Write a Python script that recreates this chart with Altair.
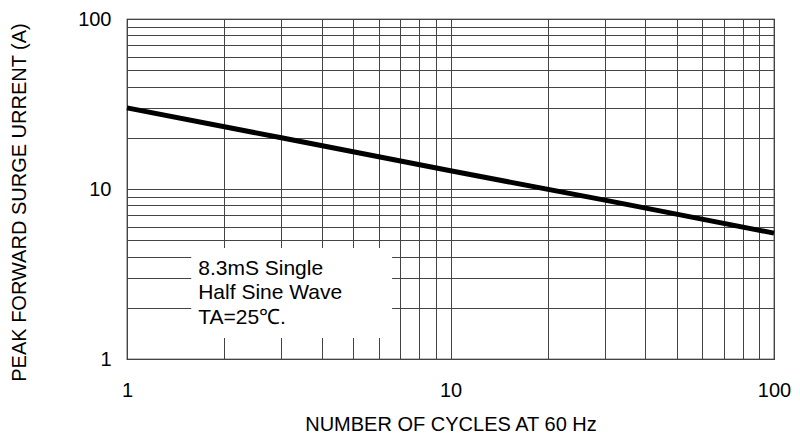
import altair as alt
import pandas as pd

# Curve
cycles = [1, 3, 10, 30, 100]
current = [30, 20, 12.8, 8.6, 5.5]

# Grid / tick values
grid_vals = [1, 2, 3, 4, 5, 6, 7, 8, 9, 10, 20, 30, 40, 50, 60, 70, 80, 90, 100]
label_vals = [1, 10, 100]

# Annotation box extent (data units) and text
box_x = [1.58, 6.6]
box_y = [1.33, 4.5]
note_lines = ["8.3mS Single", "Half Sine Wave", "TA=25\u2103."]
note_pos = [1.66, 3.12]

FONT = "Liberation Sans"

curve_df = pd.DataFrame({"x": cycles, "y": current})
box_df = pd.DataFrame({"x": [box_x[0]], "x2": [box_x[1]], "y": [box_y[0]], "y2": [box_y[1]]})
note_df = pd.DataFrame({"x": [note_pos[0]], "y": [note_pos[1]]})

label_expr = "indexof([1,10,100], datum.value) >= 0 ? format(datum.value, 'd') : ''"

xscale = alt.Scale(type="log", domain=[1, 100], nice=False)
yscale = alt.Scale(type="log", domain=[1, 100], nice=False)

xaxis = alt.Axis(
    values=grid_vals, labelExpr=label_expr, ticks=False, grid=True,
    gridColor="#444444", gridWidth=1, domain=False,
    labelFont=FONT, labelFontSize=20, labelColor="#000000", labelPadding=21,
    labelFlush=False, labelOverlap=False,
    title="NUMBER OF CYCLES AT 60 Hz", titleFont=FONT, titleFontSize=20,
    titleFontWeight="normal", titleColor="#000000", titlePadding=14,
)
yaxis = alt.Axis(
    values=grid_vals, labelExpr=label_expr, ticks=False, grid=True,
    gridColor="#444444", gridWidth=1, domain=False,
    labelFont=FONT, labelFontSize=20, labelColor="#000000", labelPadding=16,
    labelFlush=False, labelOverlap=False,
    title="PEAK FORWARD SURGE URRENT (A)", titleFont=FONT, titleFontSize=20,
    titleFontWeight="normal", titleColor="#000000",
    titleAngle=270, titleAlign="center", titleBaseline="middle",
    titleX=-108, titleY=183,
)

base_line = alt.Chart(curve_df).mark_line(color="#000000", strokeWidth=5).encode(
    x=alt.X("x:Q", scale=xscale, axis=xaxis),
    y=alt.Y("y:Q", scale=yscale, axis=yaxis),
)

box = alt.Chart(box_df).mark_rect(color="#ffffff", opacity=1).encode(
    x=alt.X("x:Q", scale=xscale),
    x2="x2:Q",
    y=alt.Y("y:Q", scale=yscale),
    y2="y2:Q",
)

note = alt.Chart(note_df).mark_text(
    text=note_lines, align="left", baseline="alphabetic", font=FONT,
    fontSize=21, lineHeight=24.5, color="#000000",
).encode(
    x=alt.X("x:Q", scale=xscale),
    y=alt.Y("y:Q", scale=yscale),
)

chart = alt.layer(base_line, box, note).properties(
    width=647, height=340,
    autosize=alt.AutoSizeParams(type="none"),
    padding={"left": 119, "top": 11, "right": 18, "bottom": 77},
).configure_view(stroke="#000000", strokeWidth=1.2)

chart.save("out.html", embed_options={"renderer": "svg", "actions": False})
